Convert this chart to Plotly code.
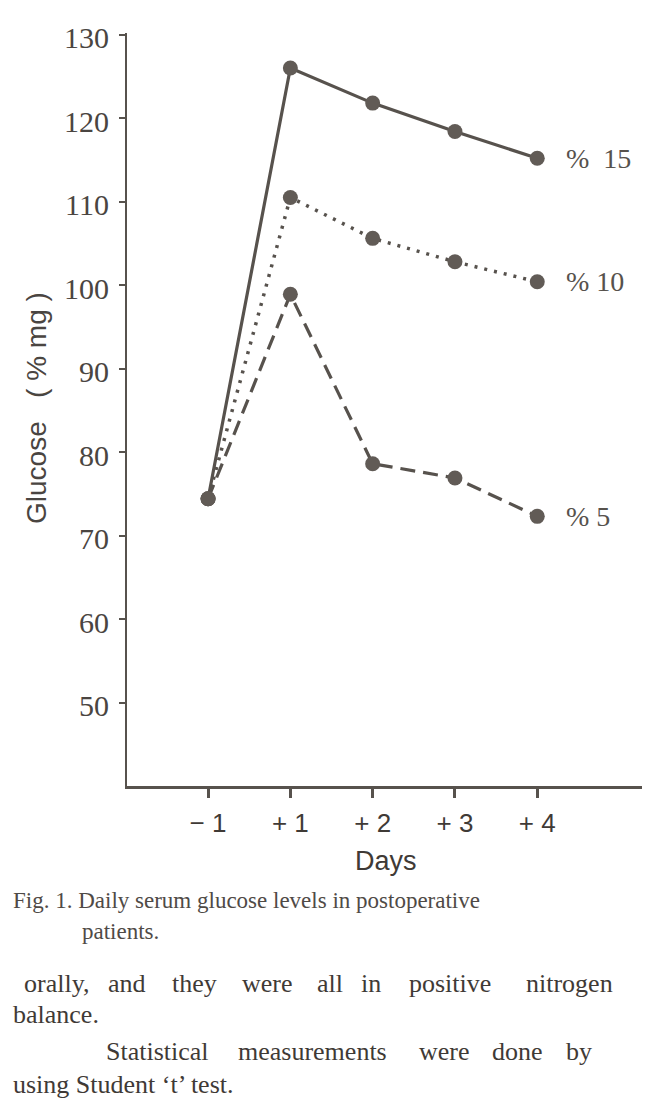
import plotly.graph_objects as go

# Days before / after operation
days = ["−\u00a01", "+\u00a01", "+\u00a02", "+\u00a03", "+\u00a04"]
x_pos = [0, 1, 2, 3, 4]

# serum glucose (% mg), one list per glucose solution
glucose_15 = [74.4, 126.0, 121.8, 118.4, 115.2]
glucose_10 = [74.4, 110.5, 105.6, 102.8, 100.4]
glucose_5 = [74.4, 98.9, 78.6, 76.9, 72.3]

series_names = ["%\u00a0 15", "%\u00a010", "%\u00a05"]
y_ticks = [50, 60, 70, 80, 90, 100, 110, 120, 130]

ink = "#57524d"
# page body adds an 8px margin, so the figure is 8px smaller each way
OFF = 8
W, H = 650 - OFF, 1106 - OFF
M_L, M_R, M_T, M_B = 119, 0, 25, 320

fig = go.Figure()
styles = [("solid", 3.2), ("3px,7px", 3.5), ("15px,8px", 3.2)]
for vals, name, (dash, w) in zip([glucose_15, glucose_10, glucose_5], series_names, styles):
    fig.add_trace(go.Scatter(
        x=x_pos, y=vals, mode="lines+markers", name=name,
        line=dict(color=ink, width=w, dash=dash),
        marker=dict(size=15, color="#615b56"),
        showlegend=False,
    ))
    # label at the right end of each curve
    fig.add_annotation(x=x_pos[-1], y=vals[-1], text=name, showarrow=False,
                       xanchor="left", xshift=27,
                       font=dict(family="Liberation Serif", size=28, color=ink))


def py(pix):
    # reference pixel row -> paper y
    return (H - M_B - (pix - OFF)) / (H - M_T - M_B)


def px(pix):
    return (pix - OFF - M_L) / (W - M_L - M_R)


def note(text, x, y, font, anchor="left", **kw):
    fig.add_annotation(x=px(x), y=py(y), xref="paper", yref="paper",
                       xanchor=anchor, yanchor="middle",
                       text=text, showarrow=False, font=font, **kw)


note("Days", 386, 861, dict(family="Liberation Sans", size=27, color="#3f3a36"), "center")
note("Glucose\u00a0\u00a0 (\u00a0% mg\u00a0)", 36, 408,
     dict(family="Liberation Sans", size=28, color="#4a4541"), "center", textangle=-90)

cap_font = dict(family="Liberation Serif", size=23, color="#4f4a46")
note("Fig. 1. Daily serum glucose levels in postoperative", 11, 900, cap_font)
note("patients.", 80, 931, cap_font)

body_font = dict(family="Liberation Serif", size=26, color="#3f3a36")
line1 = [("orally,", 56), ("and", 127), ("they", 194), ("were", 267), ("all", 330),
         ("in", 371), ("positive", 450), ("nitrogen", 569)]
for word, xc in line1:
    note(word, xc, 983, body_font, "center")
note("balance.", 11, 1014, body_font)
line3 = [("Statistical", 157), ("measurements", 312), ("were", 444), ("done", 517), ("by", 579)]
for word, xc in line3:
    note(word, xc, 1051, body_font, "center")
note("using Student ‘t’ test.", 11, 1084, body_font)

fig.update_xaxes(
    tickvals=x_pos, ticktext=days, range=[-0.985, 5.37],
    showline=True, linecolor=ink, linewidth=2.5, showgrid=False, zeroline=False,
    ticks="outside", ticklen=9, tickwidth=2.5, tickcolor=ink, ticklabelstandoff=3,
    tickfont=dict(family="Liberation Sans", size=26, color="#3f3a36"),
)
fig.update_yaxes(
    tickvals=y_ticks, range=[40, 130.2],
    showline=True, linecolor=ink, linewidth=2, showgrid=False, zeroline=False,
    ticks="outside", ticklen=6, tickwidth=2, tickcolor=ink,
    ticklabelstandoff=4, ticklabelshift=3,
    tickfont=dict(family="Liberation Serif", size=30, color="#4a4541"),
)
fig.update_layout(
    width=W, height=H, autosize=False,
    margin=dict(l=M_L, r=M_R, t=M_T, b=M_B),
    plot_bgcolor="white", paper_bgcolor="white",
)

fig.write_html("out.html")
